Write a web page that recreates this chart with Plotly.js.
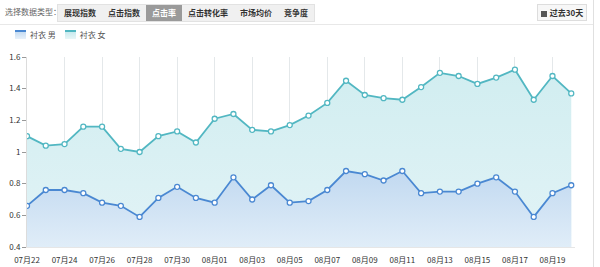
<!DOCTYPE html>
<html>
<head>
<meta charset="utf-8">
<script src="https://cdn.plot.ly/plotly-3.0.1.min.js"></script>
<style>
  html, body { margin:0; padding:0; width:600px; height:267px; background:#fff; overflow:hidden;
    font-family:"Noto Sans CJK SC","Noto Sans",sans-serif; }
  #chart { position:absolute; left:0; top:0; width:600px; height:267px; }
  .bar { position:absolute; left:0; top:0; width:600px; height:24px; }
  .lbl { position:absolute; left:5px; top:5px; font-size:8px; color:#666; line-height:14px; }
  .tabs { position:absolute; left:57px; top:4px; height:16px; background:#f0f0f0; border:1px solid #e2e2e2; display:flex; }
  .tab { font-size:8px; font-weight:bold; color:#333; line-height:16px; padding:0 6px; }
  .tab.on { background:#9a9a9a; color:#fff; }
  .btn { position:absolute; left:537px; top:4px; width:48px; height:15px; border:1px solid #ddd; background:#f7f7f7;
    font-size:8px; font-weight:bold; color:#333; line-height:15px; text-align:center; }
  .cal { display:inline-block; width:6px; height:6px; background:#555; margin-right:3px; vertical-align:-0.5px; }
  .sep { position:absolute; left:0; top:24px; width:593px; height:1px; background:#e8e8e8; }
  .vline { position:absolute; left:593px; top:0; width:1px; height:267px; background:#e0e0e0; }
  .legend { position:absolute; left:15px; top:29px; font-size:8px; color:#555; display:flex; align-items:center; }
  .ico { width:11px; height:7px; display:inline-block; margin-right:4px; }
  .item { display:flex; align-items:center; margin-right:9px; }
</style>
</head>
<body>
<div id="chart"></div>
<div class="bar">
  <div class="lbl">选择数据类型：</div>
  <div class="tabs">
    <div class="tab">展现指数</div><div class="tab">点击指数</div><div class="tab on">点击率</div><div class="tab">点击转化率</div><div class="tab">市场均价</div><div class="tab">竞争度</div>
  </div>
  <div class="btn"><span class="cal"></span>过去30天</div>
</div>
<div class="sep"></div>
<div class="vline"></div>
<div class="legend">
  <div class="item"><span class="ico" style="border-top:2px solid #4a88d2;background:linear-gradient(#c6dcf2,#e8f1fa)"></span>衬衣 男</div>
  <div class="item"><span class="ico" style="border-top:2px solid #4fb6c1;background:linear-gradient(#c8eaee,#e8f6f7)"></span>衬衣 女</div>
</div>
<script>
const dates = ["07月22","07月23","07月24","07月25","07月26","07月27","07月28","07月29","07月30","07月31",
  "08月01","08月02","08月03","08月04","08月05","08月06","08月07","08月08","08月09","08月10",
  "08月11","08月12","08月13","08月14","08月15","08月16","08月17","08月18","08月19","08月20"];
const men = [0.66,0.76,0.76,0.74,0.68,0.66,0.59,0.71,0.78,0.71,
  0.68,0.84,0.70,0.79,0.68,0.69,0.76,0.88,0.86,0.82,
  0.88,0.74,0.75,0.75,0.80,0.84,0.75,0.59,0.74,0.79];
const women = [1.10,1.04,1.05,1.16,1.16,1.02,1.00,1.10,1.13,1.06,
  1.21,1.24,1.14,1.13,1.17,1.23,1.31,1.45,1.36,1.34,
  1.33,1.41,1.50,1.48,1.43,1.47,1.52,1.33,1.48,1.37];
const yTicks = [0.4,0.6,0.8,1.0,1.2,1.4,1.6];
const tickDates = dates.filter((d,i)=> i%2===0);

const traces = [
  { x: dates, y: women, name: "衬衣 女", type: "scatter", mode: "lines+markers", fill: "tozeroy",
    line: { color: "#52b7c2", width: 1.8 },
    marker: { symbol: "circle", size: 5, color: "#ffffff", line: { color: "#52b7c2", width: 1.3 } },
    fillgradient: { type: "vertical", start: 0.4, stop: 1.6,
      colorscale: [[0, "rgba(226,243,246,1)"], [1, "rgba(208,237,240,1)"]] } },
  { x: dates, y: men, name: "衬衣 男", type: "scatter", mode: "lines+markers", fill: "tozeroy",
    line: { color: "#4a88d2", width: 1.8 },
    marker: { symbol: "circle", size: 5, color: "#ffffff", line: { color: "#4a88d2", width: 1.3 } },
    fillgradient: { type: "vertical", start: 0.4, stop: 0.9,
      colorscale: [[0, "rgba(224,237,248,1)"], [1, "rgba(192,216,240,1)"]] } }
];
const layout = {
  width: 600, height: 267,
  margin: { l: 27, r: 25, t: 57, b: 20, pad: 0 },
  paper_bgcolor: "rgba(0,0,0,0)", plot_bgcolor: "#ffffff",
  showlegend: false,
  font: { family: "Noto Sans CJK SC, Noto Sans, sans-serif", size: 8, color: "#333" },
  xaxis: { type: "category", range: [0, 29.2], tickmode: "array", tickvals: tickDates, ticktext: tickDates,
    showgrid: true, gridcolor: "#e4e8ea", gridwidth: 1, zeroline: false, showline: true, linecolor: "#e6e6e6",
    ticks: "", ticklabelstandoff: 5, tickfont: { size: 8, color: "#333" }, fixedrange: true },
  yaxis: { range: [0.4, 1.6], tickmode: "array", tickvals: yTicks, showgrid: false, zeroline: false,
    showline: true, linecolor: "#dcdcdc", ticks: "outside", ticklen: 4, tickcolor: "#999",
    tickfont: { size: 8, color: "#333" }, fixedrange: true }
};
Plotly.newPlot("chart", traces, layout, { displayModeBar: false, staticPlot: true });
</script>
</body>
</html>
